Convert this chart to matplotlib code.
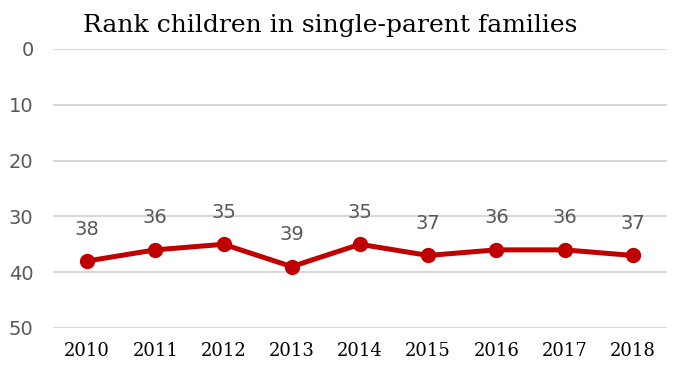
# Rank children in single-parent families

# Libraries
import matplotlib
matplotlib.use("Agg")
import matplotlib.pyplot as plt


# Data
years = ["2010", "2011", "2012", "2013", "2014", "2015", "2016", "2017", "2018"]
ranks = [38, 36, 35, 39, 35, 37, 36, 36, 37]
y_ticks = [0, 10, 20, 30, 40, 50]

# Setup/Config
line_color = "#C00000"
grid_color = "#D9D9D9"
label_color = "#595959"

plt.rcParams["font.family"] = "DejaVu Sans"

# Figure
fig = plt.figure(figsize=[6.84, 3.76], dpi=100)
ax = fig.add_axes([0.0775, 0.1277, 0.8975, 0.742])

x = list(range(len(years)))
ax.plot(x, ranks, color=line_color, linewidth=3.6, marker="o",
        markersize=10, zorder=3)

for (xi, r) in zip(x, ranks):
    ax.annotate(str(r), (xi, r), xytext=(0, 23), textcoords="offset points",
                ha="center", va="center", fontsize=14, color=label_color)

ax.set_xlim(-0.5, len(years) - 0.5)
ax.set_ylim(50, 0)
ax.set_yticks(y_ticks)
ax.set_yticklabels([str(t) for t in y_ticks], fontsize=14, color=label_color)
ax.set_xticks(x)
ax.set_xticklabels(years, fontsize=13, family="DejaVu Serif", color="black")
ax.yaxis.grid(True, color=grid_color, linewidth=1.5)
ax.set_axisbelow(True)
ax.tick_params(axis="x", length=0, pad=10)
ax.tick_params(axis="y", length=0, pad=14)

for s in ax.spines.values():
    s.set_visible(False)

fig.text(0.483, 0.933, "Rank children in single-parent families",
         ha="center", va="center", fontsize=18, family="DejaVu Serif")

fig.savefig("out.png", dpi=100)
plt.close(fig)
